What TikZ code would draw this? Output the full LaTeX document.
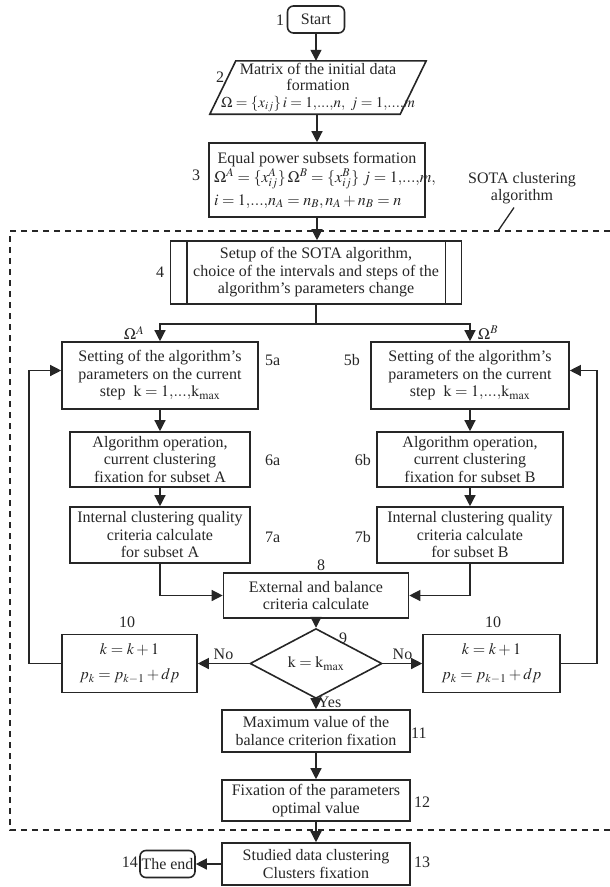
\documentclass[tikz,border=0pt]{standalone}
\usepackage{mathptmx}
\usepackage{fontspec}
\setmainfont{Liberation Serif}
\usetikzlibrary{shapes.geometric,arrows.meta}

\newcommand{\rng}[2]{#1{,}...{,}#2}

\tikzset{
  blk/.style={draw,line width=1.6pt,align=center,inner sep=1pt},
  term/.style={blk,rounded corners=6pt},
  data/.style={align=center,inner sep=0pt,font=\fontsize{16}{16.5}\selectfont},
  cond/.style={blk,diamond,inner sep=0pt},
  lbl/.style={inner sep=1pt},
  flow/.style={line width=1.3pt,-{Triangle[length=11pt,width=11pt]}},
  line/.style={line width=1.3pt},
  frame/.style={line width=1.6pt,dash pattern=on 6pt off 5pt}
}

\begin{document}
\begin{tikzpicture}[x=1pt,y=-1pt,color=black!85,font=\fontsize{16}{17.5}\selectfont]
  \useasboundingbox (0,0) rectangle (610,887);

  % SOTA part
  \draw[frame] (610,231) -- (10,231) -- (10,830) -- (610,830);
  \node (sota) at (522,188) [align=center] {SOTA clustering\\algorithm};
  \coordinate (sotapt) at (498,231);
  \draw[line] ([xshift=-8pt]sota.south) -- (sotapt);

  % main column
  \node (start) at (316,19.5) [term,minimum width=57pt,minimum height=27pt] {Start};
  \node (data) at (318,87.5) [data,minimum width=216pt,minimum height=53pt]
    {Matrix of the initial data\\formation\\{\fontsize{15}{16}\selectfont$\Omega=\{x_{ij}\}\,i=\rng{1}{n},\ j=\rng{1}{m}$}};
  \draw[line width=1.6pt] ([xshift=26pt]data.north west) -- (data.north east)
    -- ([xshift=-26pt]data.south east) -- (data.south west) -- cycle;
  \node (sets) at (317,180) [blk,minimum width=216pt,minimum height=74pt]
    {Equal power subsets formation\\[2pt]
     \makebox[206pt][l]{$\Omega^A=\{x_{ij}^A\}\,\Omega^B=\{x_{ij}^B\}\; j=\rng{1}{m},$}\\[4pt]
     \makebox[206pt][l]{$i=\rng{1}{n_A}=n_B,n_A+n_B=n$}};
  \node (setup) at (316,272.5) [blk,minimum width=291pt,minimum height=63pt]
    {Setup of the SOTA algorithm,\\choice of the intervals and steps of the\\algorithm's parameters change};
  \draw[line width=1.6pt] ([xshift=17pt]setup.north west) -- ([xshift=17pt]setup.south west);
  \draw[line width=1.6pt] ([xshift=-17pt]setup.north east) -- ([xshift=-17pt]setup.south east);
  \coordinate (fork) at (316,324);

  % two subsets
  \node (setA) at (160,375.5) [blk,minimum width=196pt,minimum height=67pt]
    {Setting of the algorithm's\\parameters on the current\\step\ \ $\mathrm{k}=\rng{1}{\mathrm{k}_{\max}}$};
  \node (setB) at (470,375.5) [blk,minimum width=198pt,minimum height=67pt]
    {Setting of the algorithm's\\parameters on the current\\step\ \ $\mathrm{k}=\rng{1}{\mathrm{k}_{\max}}$};
  \node (runA) at (160,459.5) [blk,minimum width=180pt,minimum height=55pt]
    {Algorithm operation,\\current clustering\\fixation for subset A};
  \node (runB) at (470,459.5) [blk,minimum width=186pt,minimum height=55pt]
    {Algorithm operation,\\current clustering\\fixation for subset B};
  \node (critA) at (160,535) [blk,minimum width=180pt,minimum height=56pt]
    {Internal clustering quality\\criteria calculate\\for subset A};
  \node (critB) at (470,535) [blk,minimum width=186pt,minimum height=56pt]
    {Internal clustering quality\\criteria calculate\\for subset B};

  \node (ext) at (316,595.5) [blk,minimum width=185pt,minimum height=45pt]
    {External and balance\\criteria calculate};
  \node (check) at (316,663.5) [cond,minimum width=132pt,minimum height=40pt]
    {$\mathrm{k}=\mathrm{k}_{\max}$};
  \node (incA) at (129.5,663.5) [blk,minimum width=135pt,minimum height=58pt]
    {$k=k+1$\\[7pt]$p_k=p_{k-1}+dp$};
  \node (incB) at (491.5,663.5) [blk,minimum width=137pt,minimum height=58pt]
    {$k=k+1$\\[7pt]$p_k=p_{k-1}+dp$};
  \coordinate (backA) at (29,663.5);
  \coordinate (backB) at (597,663.5);

  \node (best) at (316,731) [blk,minimum width=188pt,minimum height=42pt]
    {Maximum value of the\\balance criterion fixation};
  \node (opt) at (316,800.5) [blk,minimum width=188pt,minimum height=41pt]
    {Fixation of the parameters\\optimal value};
  \node (res) at (316,864) [blk,minimum width=188pt,minimum height=42pt]
    {Studied data clustering\\Clusters fixation};
  \node (endn) at (167.5,864) [term,minimum width=55pt,minimum height=27pt,inner sep=0pt] {The end};

  % numbers
  \node (n1) at (280,20) [lbl] {1};
  \node (n2) at (220,77) [lbl] {2};
  \node (n3) at (196,175) [lbl] {3};
  \node (n4) at (160,272) [lbl] {4};
  \node (n5a) at (264,360) [lbl,anchor=west] {5a};
  \node (n5b) at (361,360) [lbl,anchor=east] {5b};
  \node (n6a) at (264,460) [lbl,anchor=west] {6a};
  \node (n6b) at (372,460) [lbl,anchor=east] {6b};
  \node (n7a) at (264,537) [lbl,anchor=west] {7a};
  \node (n7b) at (372,537) [lbl,anchor=east] {7b};
  \node (n8) at (321,565) [lbl] {8};
  \node (n9) at (343,638) [lbl] {9};
  \node (n10a) at (127,622) [lbl] {10};
  \node (n10b) at (493,622) [lbl] {10};
  \node (n11) at (410,733) [lbl,anchor=west] {11};
  \node (n12) at (413,802) [lbl,anchor=west] {12};
  \node (n13) at (413,862) [lbl,anchor=west] {13};
  \node (n14) at (139,862) [lbl,anchor=east] {14};
  \node (omA) at (134,333) [lbl] {$\Omega^A$};
  \node (omB) at (488,333) [lbl] {$\Omega^B$};

  % connectors
  \draw[flow] (start.south) -- (start.south |- data.north);
  \draw[flow] (sets.north |- data.south) -- (sets.north);
  \draw[flow] (sets.south) -- (sets.south |- setup.north);
  \draw[line] (setup.south) -- (fork);
  \draw[flow] (fork) -| (setA.north);
  \draw[flow] (fork) -| (setB.north);
  \draw[flow] (setA) -- (runA);
  \draw[flow] (setB) -- (runB);
  \draw[flow] (runA) -- (critA);
  \draw[flow] (runB) -- (critB);
  \draw[flow] (critA.south) |- (ext.west);
  \draw[flow] (critB.south) |- (ext.east);
  \draw[flow] (ext) -- (check);
  \draw[flow] (check.west) -- (incA.east) node[midway,above] {No};
  \draw[flow] (check.east) -- (incB.west) node[midway,above] {No};
  \draw[flow] (incA.west) -- (backA) |- ([yshift=5pt]setA.west);
  \draw[flow] (incB.east) -- (backB) |- ([yshift=5pt]setB.east);
  \draw[flow] (check) -- (best) node[midway,right,xshift=-2pt,yshift=2pt] {Yes};
  \draw[flow] (best) -- (opt);
  \draw[flow] (opt) -- (res);
  \draw[flow] (res) -- (endn);
\end{tikzpicture}
\end{document}
